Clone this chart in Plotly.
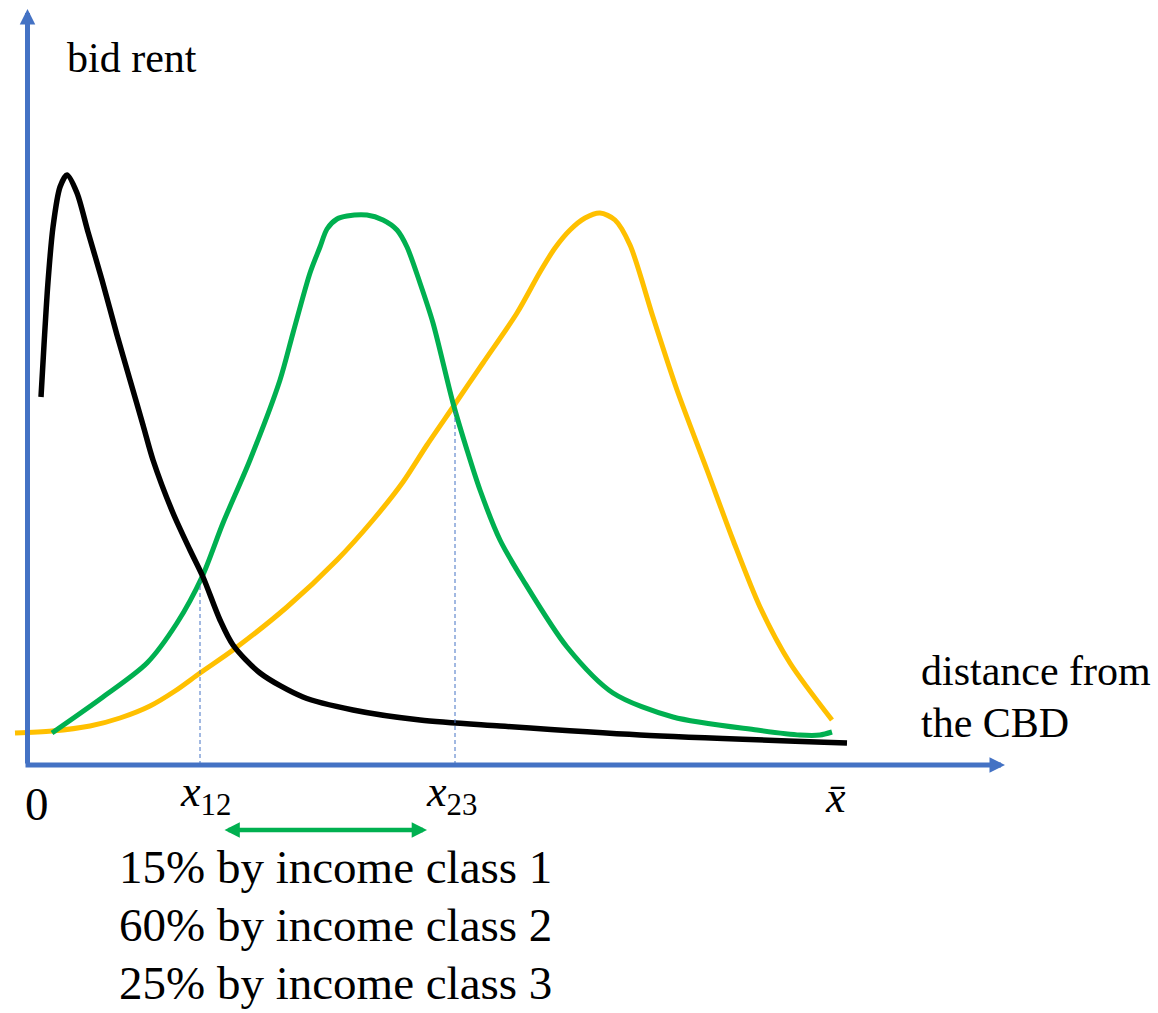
import numpy as np
import plotly.graph_objects as go

# ---- data (distance from CBD, bid rent) ----
# income class 1 (black)
class1_dist = [14, 17, 21, 26, 33, 40, 50, 61, 75, 90, 103, 116, 126, 146, 163, 176, 193, 206, 233, 276, 326, 393, 473, 613, 820]
class1_rent = [368, 420, 483, 538, 578, 590, 572, 533, 485, 430, 385, 340, 305, 252, 215, 188, 145, 120, 92, 68, 55, 45, 39, 30, 22]
# income class 2 (green)
class2_dist = [25, 76, 120, 150, 175, 196, 223, 253, 266, 283, 293, 300, 310, 320, 340, 356, 370, 380, 393, 406, 426, 440, 453, 473, 496, 540, 586, 646, 730, 773, 793, 805]
class2_rent = [32, 68, 102, 142, 188, 242, 305, 385, 432, 492, 518, 536, 546, 549, 550, 545, 535, 518, 482, 442, 362, 315, 275, 225, 185, 118, 72, 48, 35, 30, 30, 33]
# income class 3 (yellow)
class3_dist = [-12, 25, 63, 93, 123, 148, 173, 206, 260, 310, 346, 376, 400, 426, 456, 490, 513, 528, 543, 558, 573, 588, 603, 626, 650, 680, 706, 733, 763, 805]
class3_rent = [32, 34, 39, 47, 59, 74, 92, 115, 158, 205, 245, 283, 320, 358, 402, 452, 493, 517, 535, 547, 552, 545, 520, 448, 375, 295, 225, 158, 102, 45]

# boundaries and tick labels
boundary_names = ["x12", "x23"]
boundary_dist = [173, 428]
tick_labels = ["0", "<i>x</i><sub>12</sub>", "<i>x</i><sub>23</sub>", "<i>x̄</i>"]
tick_dist = [10, 178, 424, 808]
shares = ["15% by income class 1", "60% by income class 2", "25% by income class 3"]

BLUE = "#4472C4"
GREEN = "#00B050"
YELLOW = "#FFC000"
FONT = "Liberation Serif"

fig = go.Figure()
fig.add_trace(go.Scatter(x=class3_dist, y=class3_rent, mode="lines",
                         line=dict(color=YELLOW, width=5, shape="spline", smoothing=0.8),
                         hoverinfo="skip", showlegend=False))
fig.add_trace(go.Scatter(x=class2_dist, y=class2_rent, mode="lines",
                         line=dict(color=GREEN, width=5, shape="spline", smoothing=0.8),
                         hoverinfo="skip", showlegend=False))
fig.add_trace(go.Scatter(x=class1_dist, y=class1_rent, mode="lines",
                         line=dict(color="black", width=5.5, shape="spline", smoothing=0.8),
                         hoverinfo="skip", showlegend=False))

# dashed boundary lines up to green curve
for bd in boundary_dist:
    top = float(np.interp(bd, class2_dist, class2_rent))
    fig.add_shape(type="line", x0=bd, x1=bd, y0=0, y1=top, xref="x", yref="y",
                  line=dict(color=BLUE, width=1, dash="4px,3px"))

annotations = []
# axes arrows
annotations.append(dict(x=0.5, y=756, ax=0.5, ay=0, xref="x", yref="y", axref="x", ayref="y",
                        showarrow=True, arrowhead=2, arrowsize=0.62, arrowwidth=5,
                        arrowcolor=BLUE, text="", standoff=0))
annotations.append(dict(x=978, y=0, ax=-3, ay=0, xref="x", yref="y", axref="x", ayref="y",
                        showarrow=True, arrowhead=2, arrowsize=0.62, arrowwidth=5,
                        arrowcolor=BLUE, text="", standoff=0))
# green double arrow
annotations.append(dict(x=400, y=-65, ax=196, ay=-65, xref="x", yref="y", axref="x", ayref="y",
                        showarrow=True, arrowhead=2, startarrowhead=2, arrowside="end+start",
                        arrowsize=0.68, startarrowsize=0.68, arrowwidth=4.5,
                        arrowcolor=GREEN, text="", standoff=0, startstandoff=0))

# axis titles
annotations.append(dict(x=38, y=707, xref="x", yref="y", text="bid rent", showarrow=False,
                        xanchor="left", yanchor="middle", font=dict(family=FONT, size=42, color="black")))
annotations.append(dict(x=892, y=94, xref="x", yref="y", text="distance from", showarrow=False,
                        xanchor="left", yanchor="middle", font=dict(family=FONT, size=42, color="black")))
annotations.append(dict(x=892, y=42, xref="x", yref="y", text="the CBD", showarrow=False,
                        xanchor="left", yanchor="middle", font=dict(family=FONT, size=42, color="black")))

# tick labels
tick_y = [-39, -29, -29, -32]
tick_size = [47, 44, 44, 44]
for lab, d, ty, fs in zip(tick_labels, tick_dist, tick_y, tick_size):
    annotations.append(dict(x=d, y=ty, xref="x", yref="y", text=lab, showarrow=False,
                            xanchor="center", yanchor="middle",
                            font=dict(family=FONT, size=fs, color="black")))

# share text lines
for i, s in enumerate(shares):
    annotations.append(dict(x=308, y=-102 - 58 * i, xref="x", yref="y", text=s, showarrow=False,
                            xanchor="center", yanchor="middle",
                            font=dict(family=FONT, size=47, color="black")))

fig.update_layout(
    width=1158, height=1013, margin=dict(l=0, r=0, t=0, b=0),
    paper_bgcolor="white", plot_bgcolor="white",
    xaxis=dict(range=[-27, 1131], visible=False, fixedrange=True),
    yaxis=dict(range=[-248, 765], visible=False, fixedrange=True),
    annotations=annotations, showlegend=False,
)

fig.write_html("out.html", config={"displayModeBar": False},
               post_script="document.body.style.margin='0';document.body.style.padding='0';")
